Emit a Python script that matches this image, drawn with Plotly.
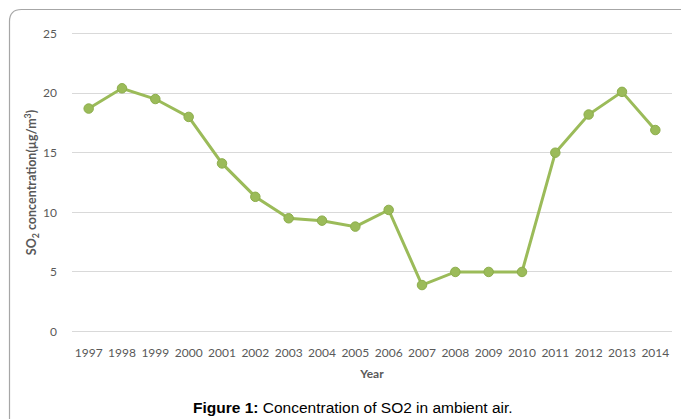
import plotly.graph_objects as go

years = ["1997", "1998", "1999", "2000", "2001", "2002", "2003", "2004", "2005",
         "2006", "2007", "2008", "2009", "2010", "2011", "2012", "2013", "2014"]
so2 = [18.7, 20.4, 19.5, 18.0, 14.1, 11.3, 9.5, 9.3, 8.8,
       10.2, 3.9, 5.0, 5.0, 5.0, 15.0, 18.2, 20.1, 16.9]
y_ticks = [0, 5, 10, 15, 20, 25]

W, H = 681, 419
L, R, T, B = 72, 9, 32, 86
pw, ph = W - L - R, H - T - B

def px(x):
    return (x - L) / pw

def py(y):
    return (H - B - y) / ph

fig = go.Figure()
fig.add_trace(go.Scatter(
    x=years, y=so2, mode="lines+markers",
    line=dict(color="#9BBB59", width=3),
    marker=dict(color="#9BBB59", size=9.5, line=dict(color="#8DAE4C", width=1)),
    showlegend=False, cliponaxis=False,
))

grey = "#595959"
fig.update_layout(
    width=W, height=H,
    margin=dict(l=L, r=R, t=T, b=B, autoexpand=False),
    paper_bgcolor="white", plot_bgcolor="white",
    font=dict(family="Lato, Carlito, sans-serif", color=grey, size=12),
    xaxis=dict(
        type="category", range=[-0.5, len(years) - 0.5],
        showgrid=False, zeroline=False, showline=False,
        ticks="", tickfont=dict(size=12, color=grey), automargin=False,
        ticklabelstandoff=11,
        title=dict(text="<b>Year</b>", font=dict(size=12, color=grey), standoff=10),
    ),
    yaxis=dict(
        range=[-0.12, 25.12], tickvals=y_ticks, showgrid=True, gridcolor="#D9D9D9",
        gridwidth=1, zeroline=False, showline=False, ticks="", automargin=False,
        tickfont=dict(size=12, color=grey), ticklabelstandoff=14,
        title=dict(text="<b>SO<sub>2</sub> concentration(µg/m<sup>3</sup>)</b>",
                   font=dict(size=12.5, color=grey), standoff=3),
    ),
)

# Rounded border frame extending off the image to the right and bottom
xl, yt, r = px(9.5), py(9.5), 12
fig.add_shape(
    type="path", xref="paper", yref="paper",
    path=(f"M {xl},{py(430)} L {xl},{py(9.5 + r)} "
          f"Q {xl},{yt} {px(9.5 + r)},{yt} L {px(700)},{yt}"),
    line=dict(color="#A6A6A6", width=1.2),
)

fig.add_annotation(
    xref="paper", yref="paper", x=px(353), y=py(407),
    text="<b>Figure 1:</b> Concentration of SO2 in ambient air.",
    showarrow=False, xanchor="center", yanchor="middle",
    font=dict(family="Liberation Sans, Arial, sans-serif", size=15.5, color="black"),
)

fig.write_html("out.html", config={"displayModeBar": False},
               post_script="document.body.style.margin='0';")
